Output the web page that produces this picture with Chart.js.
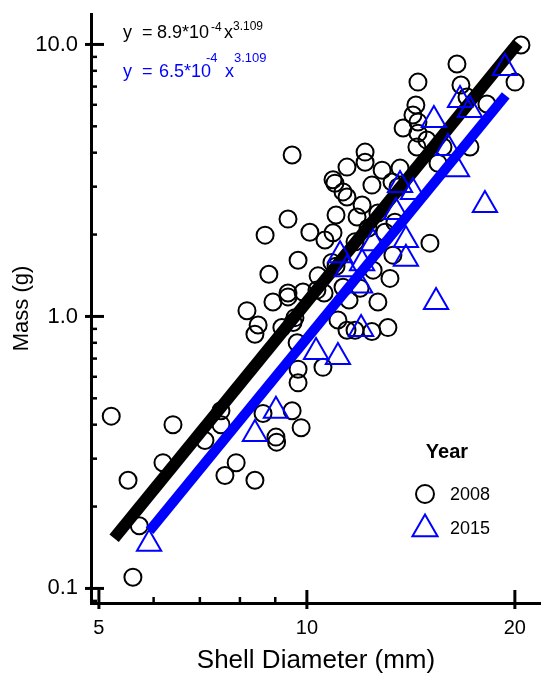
<!DOCTYPE html>
<html>
<head>
<meta charset="utf-8">
<script src="https://cdn.jsdelivr.net/npm/chart.js@4/dist/chart.umd.min.js"></script>
<style>
  html, body { margin: 0; padding: 0; background: #fff; }
  #wrap { width: 541px; height: 674px; position: relative; }
</style>
</head>
<body>
<div id="wrap"><canvas id="c" width="541" height="674"></canvas></div>
<script>
// ---- data ----
const diameter2008 = [5.21, 5.51, 5.72, 5.60, 6.40, 6.19, 7.51, 7.51, 7.12, 7.90, 7.61, 8.41, 8.64, 9.02, 9.04,
  9.52, 9.81, 9.71, 9.71, 9.68, 8.41, 10.55, 8.19, 8.50, 8.93, 9.39, 9.39, 9.87, 10.34, 10.59,
  9.61, 9.55, 9.20, 11.09, 11.43, 8.81, 9.71, 10.38, 8.70, 9.39, 10.10, 10.62, 10.91, 11.02, 9.52,
  11.43, 10.98, 11.28, 11.43, 11.28, 10.87, 11.82, 11.74, 12.97, 13.32, 15.07, 12.47, 13.19, 11.94, 12.67,
  11.74, 12.42, 13.10, 20.41, 16.49, 20.01, 14.48, 16.71, 17.05, 18.22, 14.38, 14.24, 14.48, 13.78, 14.48,
  14.43, 14.92, 15.74, 17.22, 12.14, 12.14, 12.85, 13.64, 12.42, 13.28, 15.48, 13.55, 10.91, 12.02, 12.67,
  13.41, 12.26, 11.02, 11.51];
const mass2008 = [0.43, 0.25, 0.17, 0.11, 0.40, 0.29, 0.45, 0.40, 0.35, 0.29, 0.26, 0.25, 0.44, 0.36, 0.345,
  0.45, 0.39, 0.57, 0.64, 0.80, 0.86, 0.65, 1.05, 0.93, 1.13, 1.22, 1.18, 1.23, 1.25, 1.22,
  0.99, 0.95, 0.91, 0.97, 0.89, 1.43, 1.61, 1.41, 1.99, 2.28, 2.04, 1.91, 2.03, 2.36, 3.92,
  3.54, 3.09, 2.87, 2.75, 1.28, 1.58, 2.32, 1.88, 2.04, 1.68, 1.86, 1.48, 1.38, 1.27, 1.13,
  0.89, 0.88, 0.91, 9.95, 8.47, 7.27, 7.27, 7.09, 6.41, 6.04, 5.99, 5.50, 5.19, 4.93, 4.72,
  4.20, 4.45, 4.20, 4.20, 4.02, 3.69, 3.45, 3.51, 3.04, 3.12, 3.66, 2.99, 3.18, 2.57, 2.40,
  2.22, 2.11, 1.53, 1.15];

const diameter2015 = [5.91, 8.41, 9.02, 10.31, 11.09, 11.98, 11.17, 11.43, 11.94, 12.47, 13.46, 13.91,
  13.91, 15.38, 13.64, 14.24, 18.10, 16.49, 16.00, 15.27, 16.66, 17.22, 19.35, 12.02];
const mass2015 = [0.146, 0.37, 0.45, 0.74, 0.71, 0.90, 1.68, 1.49, 1.30, 1.86, 2.42, 1.91,
  1.63, 1.13, 3.04, 2.87, 2.57, 3.48, 4.16, 5.27, 6.25, 5.74, 8.19, 1.57];

// fitted power-law lines (end points)
const fit2008X = [5.26, 20.2];
const fit2008Y = [0.153, 10.1];
const fit2015X = [5.92, 19.4];
const fit2015Y = [0.163, 6.5];

const seriesLabels = ['2008', '2015'];
const legendTitle = 'Year';

const xTicks = [5, 10, 20];
const xTickLabels = ['5', '10', '20'];
const xMinorTicks = [6, 7, 8, 9];
const yTicks = [0.1, 1, 10];
const yTickLabels = ['0.1', '1.0', '10.0'];
const yMinorTicks = [0.09, 0.2, 0.3, 0.4, 0.5, 0.6, 0.7, 0.8, 0.9, 2, 3, 4, 5, 6, 7, 8, 9];

const xTitle = 'Shell Diameter (mm)';
const yTitle = 'Mass (g)';

// ---- build ----
const BLUE = '#0000ff';
const FONT = "'Liberation Sans', Arial, Helvetica, sans-serif";
Chart.defaults.font.family = FONT;
Chart.defaults.color = '#000';

const pts = (xs, ys) => xs.map((x, i) => ({ x: x, y: ys[i] }));

function drawTri(ctx, x, y, r) {
  let rad = 0;
  ctx.beginPath();
  ctx.moveTo(x + Math.sin(rad) * r, y - Math.cos(rad) * r);
  rad += 2 * Math.PI / 3;
  ctx.lineTo(x + Math.sin(rad) * r, y - Math.cos(rad) * r);
  rad += 2 * Math.PI / 3;
  ctx.lineTo(x + Math.sin(rad) * r, y - Math.cos(rad) * r);
  ctx.closePath();
  ctx.stroke();
}

function noPad(s) { s.paddingTop = 0; s.paddingBottom = 0; s.paddingLeft = 0; s.paddingRight = 0; }

const decor = {
  id: 'decor',
  afterDraw(chart) {
    const ctx = chart.ctx, a = chart.chartArea;
    const xs = chart.scales.x, ys = chart.scales.y;
    ctx.save();
    ctx.strokeStyle = '#000';
    ctx.lineCap = 'butt';
    const seg = (x1, y1, x2, y2) => { ctx.beginPath(); ctx.moveTo(x1, y1); ctx.lineTo(x2, y2); ctx.stroke(); };
    // major ticks (cross the axis)
    ctx.lineWidth = 3;
    yTicks.forEach(v => { const p = ys.getPixelForValue(v); seg(a.left - 6, p, a.left + 13, p); });
    xTicks.forEach(v => { const p = xs.getPixelForValue(v); seg(p, a.bottom - 13, p, a.bottom + 6); });
    // minor ticks (inside)
    ctx.lineWidth = 2.5;
    yMinorTicks.forEach(v => { const p = ys.getPixelForValue(v); seg(a.left, p, a.left + 6, p); });
    xMinorTicks.forEach(v => { const p = xs.getPixelForValue(v); seg(p, a.bottom - 6, p, a.bottom); });

    // equations
    ctx.textBaseline = 'alphabetic';
    ctx.textAlign = 'left';
    ctx.fillStyle = '#000';
    ctx.font = '18px ' + FONT;
    ctx.fillText('y', 123, 38);
    ctx.fillText('=', 142, 38);
    ctx.fillText('8.9*10', 157, 38);
    ctx.fillText('x', 224, 38);
    ctx.font = '12px ' + FONT;
    ctx.fillText('-4', 211, 31);
    ctx.fillText('3.109', 233, 30);

    ctx.fillStyle = BLUE;
    ctx.font = '18px ' + FONT;
    ctx.fillText('y', 123, 77);
    ctx.fillText('=', 142, 77);
    ctx.fillText('6.5*10', 159, 77);
    ctx.fillText('x', 225, 77);
    ctx.font = '13px ' + FONT;
    ctx.fillText('-4', 206, 62);
    ctx.fillText('3.109', 234, 62);

    // legend
    ctx.fillStyle = '#000';
    ctx.textAlign = 'center';
    ctx.textBaseline = 'middle';
    ctx.font = 'bold 20px ' + FONT;
    ctx.fillText(legendTitle, 447, 452);
    ctx.textAlign = 'left';
    ctx.font = '18px ' + FONT;
    ctx.lineWidth = 2;
    ctx.strokeStyle = '#000';
    ctx.beginPath(); ctx.arc(425, 494, 9, 0, Math.PI * 2); ctx.stroke();
    ctx.fillText(seriesLabels[0], 450, 495);
    ctx.strokeStyle = BLUE;
    drawTri(ctx, 425, 529, 14.5);
    ctx.fillStyle = '#000';
    ctx.fillText(seriesLabels[1], 450, 529);
    ctx.restore();
  }
};

new Chart(document.getElementById('c'), {
  type: 'scatter',
  data: {
    datasets: [
      {
        label: seriesLabels[1],
        data: pts(diameter2015, mass2015),
        pointStyle: 'triangle',
        pointRadius: 14,
        borderColor: BLUE,
        backgroundColor: 'rgba(0,0,0,0)',
        pointBorderWidth: 2,
        order: 0
      },
      {
        label: 'fit ' + seriesLabels[1],
        data: pts(fit2015X, fit2015Y),
        showLine: true,
        pointRadius: 0,
        borderColor: BLUE,
        borderWidth: 10,
        borderCapStyle: 'butt',
        order: 1
      },
      {
        label: 'fit ' + seriesLabels[0],
        data: pts(fit2008X, fit2008Y),
        showLine: true,
        pointRadius: 0,
        borderColor: '#000',
        borderWidth: 12,
        borderCapStyle: 'butt',
        order: 2
      },
      {
        label: seriesLabels[0],
        data: pts(diameter2008, mass2008),
        pointStyle: 'circle',
        pointRadius: 8.5,
        borderColor: '#000',
        backgroundColor: 'rgba(0,0,0,0)',
        pointBorderWidth: 2,
        order: 3
      }
    ]
  },
  options: {
    responsive: false,
    animation: false,
    events: [],
    layout: { autoPadding: false, padding: { top: 14, left: 0, right: 0, bottom: 0 } },
    plugins: { legend: { display: false }, tooltip: { enabled: false } },
    scales: {
      x: {
        type: 'logarithmic',
        position: 'bottom',
        min: 4.87,
        max: 21.82,
        afterBuildTicks: s => { s.ticks = xTicks.map(v => ({ value: v })); },
        afterFit: s => { s.height = 71; noPad(s); },
        grid: { display: false, drawTicks: false },
        border: { display: true, color: '#000', width: 3 },
        ticks: {
          color: '#000', font: { size: 20, lineHeight: 1 }, padding: 15,
          maxRotation: 0, autoSkip: false,
          callback: (v, i) => xTickLabels[i]
        },
        title: { display: true, text: xTitle, color: '#000', font: { size: 26, lineHeight: 1 }, padding: { top: 0, bottom: 0 } }
      },
      y: {
        type: 'logarithmic',
        position: 'left',
        min: 0.0884,
        max: 12.94,
        afterBuildTicks: s => { s.ticks = yTicks.map(v => ({ value: v })); },
        afterFit: s => { s.width = 91; noPad(s); },
        grid: { display: false, drawTicks: false },
        border: { display: true, color: '#000', width: 3 },
        ticks: {
          color: '#000', font: { size: 22, lineHeight: 1 }, padding: 13,
          autoSkip: false,
          callback: (v, i) => yTickLabels[i]
        },
        title: { display: true, text: yTitle, color: '#000', font: { size: 22, lineHeight: 1 }, padding: { top: 11, bottom: 0 } }
      }
    }
  },
  plugins: [decor]
});
</script>
</body>
</html>
